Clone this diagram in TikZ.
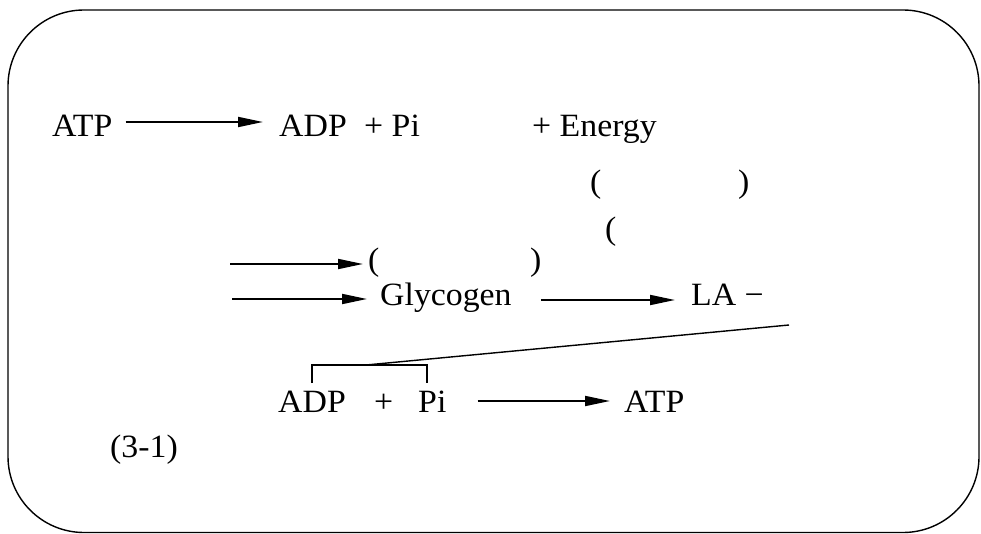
\documentclass[tikz,border=0pt]{standalone}
\usepackage{fontspec}
\setmainfont{Liberation Serif}[FakeStretch=1.04]
\usetikzlibrary{arrows.meta}
\begin{document}
\begin{tikzpicture}[x=1pt,y=-1pt,
  txt/.style={inner sep=0pt, anchor=base west, font=\fontsize{32.5}{38}\selectfont},
  arr/.style={line width=1.8pt, -{Triangle[length=25pt,width=10pt]}},
  thinline/.style={line width=1.4pt}]
\useasboundingbox (0,0) rectangle (981,534);
\draw[line width=1.4pt, rounded corners=76pt] (8,10) rectangle (979,532.5);
% row 1
\node[txt] (atp1) at (52,137) {ATP};
\node[txt] (adp1) at (279,137) {ADP};
\node[txt] (pi1) at (364,137) {+ Pi};
\node[txt] (en) at (532,137) {+ Energy};
\draw[arr, shorten <=13pt, shorten >=16pt] ([yshift=15pt]atp1.base east) -- ([yshift=15pt]adp1.base west);
% parentheses
\node[txt] (p2a) at (590,193) {(};
\node[txt] (p2b) at (738,193) {)};
\node[txt] (p3a) at (605,240) {(};
\node[txt] (p4a) at (368,270) {(};
\node[txt] (p4b) at (530,270) {)};
% row 4/5
\coordinate (s4) at (230,264);
\draw[arr, shorten >=5pt] (s4) -- (p4a.west |- s4);
\node[txt] (gly) at (380,305) {Glycogen};
\node[txt] (la) at (691,305) {LA −};
\coordinate (s5) at (232,299);
\draw[arr, shorten >=13pt] (s5) -- (gly.west |- s5);
\draw[arr, shorten <=29pt, shorten >=16pt] ([yshift=5pt]gly.base east) -- ([yshift=5pt]la.base west);
% connector line and bracket
\coordinate (lt) at (789,325);
\coordinate (bm) at (366,365);
\coordinate (bl) at (312,383);
\coordinate (br) at (427,383);
\draw[thinline] (lt) -- (bm);
\draw[thinline] (bl) -- (bl |- bm) -- (br |- bm) -- (br);
% row 6
\node[txt] (adp2) at (278,412) {ADP};
\node[txt] (plus2) at (374,412) {+};
\node[txt] (pi2) at (418,412) {Pi};
\node[txt] (atp2) at (624,412) {ATP};
\draw[arr, shorten <=31pt, shorten >=14pt] ([yshift=11pt]pi2.base east) -- ([yshift=11pt]atp2.base west);
% equation number
\node[txt] (eq) at (110,457) {(3-1)};
\end{tikzpicture}
\end{document}
